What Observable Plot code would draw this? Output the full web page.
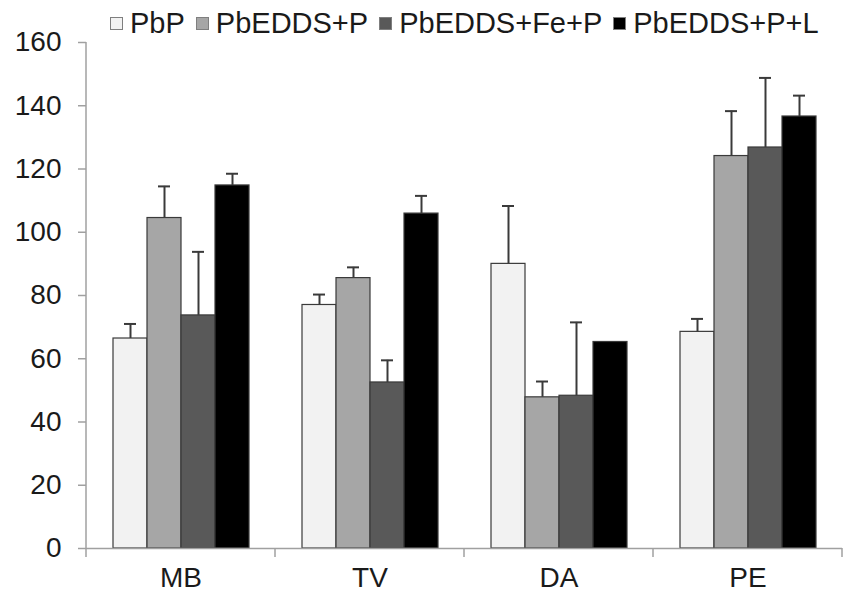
<!DOCTYPE html>
<html><head><meta charset="utf-8">
<script src="https://cdn.jsdelivr.net/npm/d3@7"></script>
<script src="https://cdn.jsdelivr.net/npm/@observablehq/plot@0.6"></script>
<style>
body{margin:0;background:#fff;font-family:"Liberation Sans",Arial,sans-serif;}
#wrap{position:relative;width:843px;height:594px;}
#legend{position:absolute;left:110px;top:6px;display:flex;align-items:center;font-size:29px;color:#1a1a1a;white-space:nowrap;line-height:34px;}
.item{display:flex;align-items:center;margin-right:11px}
.sw{width:13px;height:13px;border:1px solid #7f7f7f;margin-right:7px;box-sizing:border-box}
</style></head><body><div id="wrap"><div id="legend"></div></div>
<script>
const sites = ["MB", "TV", "DA", "PE"];
const treatments = ["PbP", "PbEDDS+P", "PbEDDS+Fe+P", "PbEDDS+P+L"];
const meanPbP      = [66.4, 77.0, 90.0, 68.5];
const meanEDDS     = [104.5, 85.5, 47.8, 124.1];
const meanEDDSFe   = [73.7, 52.5, 48.3, 126.8];
const meanEDDSL    = [114.8, 105.9, 65.3, 136.6];
const errPbP       = [4.6, 3.3, 18.3, 4.1];
const errEDDS      = [10.0, 3.4, 5.0, 14.2];
const errEDDSFe    = [20.1, 7.0, 23.2, 22.0];
const errEDDSL     = [3.7, 5.6, 0, 6.6];
const yTicks = [0, 20, 40, 60, 80, 100, 120, 140, 160];
const colors = ["#f2f2f2", "#a6a6a6", "#595959", "#000000"];

const means = [meanPbP, meanEDDS, meanEDDSFe, meanEDDSL];
const errs = [errPbP, errEDDS, errEDDSFe, errEDDSL];
const data = [];
sites.forEach((s, i) => treatments.forEach((t, j) => {
  data.push({site: s, treat: t, value: means[j][i], err: errs[j][i], top: means[j][i] + errs[j][i]});
}));
const withErr = data.filter(d => d.err > 0);

const chart = Plot.plot({
  width: 843, height: 594,
  marginLeft: 84, marginRight: 0, marginTop: 42, marginBottom: 46,
  style: {fontFamily: "'Liberation Sans', Arial, sans-serif", fontSize: "28px", color: "#1a1a1a", background: "transparent"},
  fx: {domain: sites, padding: 0, label: null},
  x: {domain: treatments, paddingInner: 0, paddingOuter: 0.745, axis: null},
  y: {domain: [0, 160], label: null},
  color: {domain: treatments, range: colors},
  marks: [
    Plot.axisY({ticks: yTicks, tickSize: 8, tickPadding: 17, label: null, stroke: "#a0a0a0", strokeWidth: 1.5, fill: "#1a1a1a", fontSize: 28}),
    Plot.axisFx({anchor: "bottom", tickSize: 0, tickPadding: 19, label: null, fill: "#1a1a1a", fontSize: 28}),
    Plot.barY(data, {fx: "site", x: "treat", y: "value", fill: "treat", stroke: "#3a3a3a", strokeWidth: 1.2}),
    Plot.ruleX(withErr, {fx: "site", x: "treat", y1: "value", y2: "top", stroke: "#3a3a3a", strokeWidth: 2}),
    Plot.tickY(withErr, {fx: "site", x: "treat", y: "top", stroke: "#3a3a3a", strokeWidth: 2, insetLeft: 11, insetRight: 11}),
    Plot.ruleY([0], {stroke: "#a0a0a0", strokeWidth: 1.5})
  ]
});

const fx = chart.scale("fx"), y = chart.scale("y");
const g = d3.select(chart).append("g").attr("stroke", "#a0a0a0").attr("stroke-width", 1.5);
const x0 = fx.apply(sites[0]);
g.append("line").attr("x1", x0).attr("x2", x0).attr("y1", y.apply(0)).attr("y2", y.apply(160));
const edges = sites.map(s => fx.apply(s));
edges.push(fx.apply(sites[sites.length - 1]) + fx.bandwidth);
edges.forEach(e => g.append("line").attr("x1", e).attr("x2", e).attr("y1", y.apply(0)).attr("y2", y.apply(0) + 9));

document.getElementById("wrap").appendChild(chart);
const leg = d3.select("#legend");
treatments.forEach((t, j) => {
  const it = leg.append("div").attr("class", "item");
  it.append("div").attr("class", "sw").style("background", colors[j]);
  it.append("span").text(t);
});
</script></body></html>
